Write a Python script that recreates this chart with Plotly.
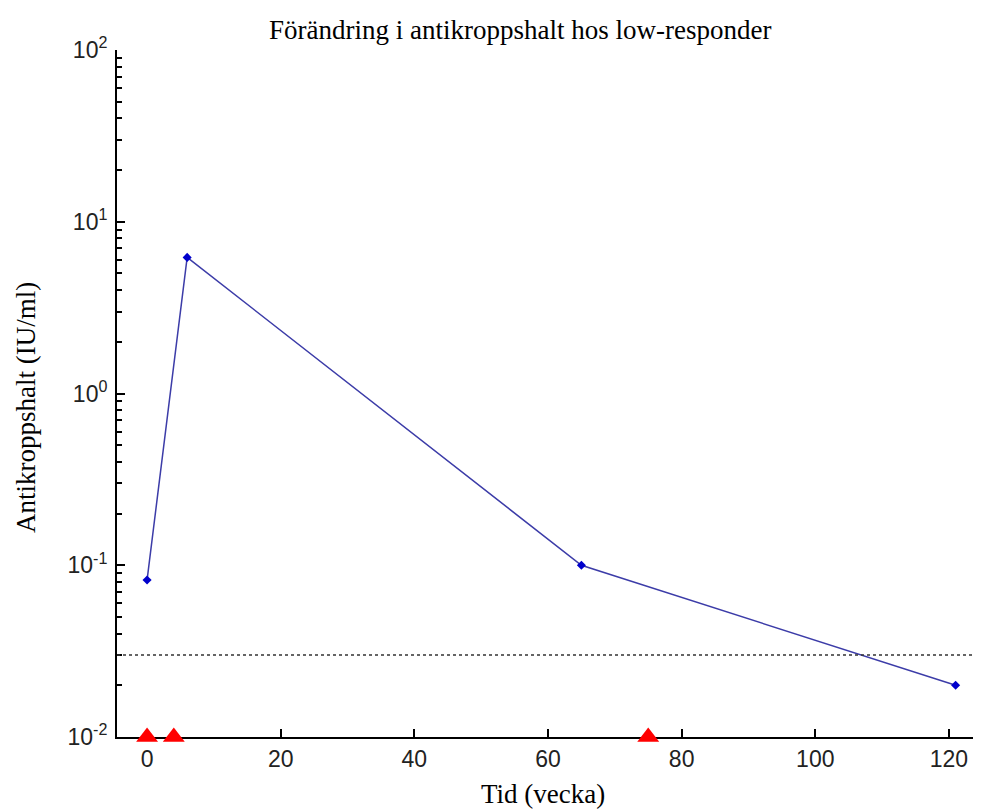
import plotly.graph_objects as go

weeks = [0, 6, 65, 121]
titer = [0.082, 6.2, 0.1, 0.02]
dose_weeks = [0, 4, 75]
dose_level = [0.01, 0.01, 0.01]
threshold = 0.03
x_ticks = [0, 20, 40, 60, 80, 100, 120]
y_ticks = [0.01, 0.1, 1, 10, 100]
y_ticktext = ["10<sup>-2</sup>", "10<sup>-1</sup>", "10<sup>0</sup>", "10<sup>1</sup>", "10<sup>2</sup>"]

# standard logarithmic minor ticks (2..9 within each decade)
minor_vals = [m * d for d in y_ticks[:-1] for m in range(2, 10)]

# page has an 8px body margin; figure sized to fit the 981x812 window
W, H = 973, 804
L, T, B = 109, 42, 75
PW, PH = W - L, H - T - B

fig = go.Figure()
fig.add_trace(go.Scatter(
    x=weeks, y=titer, mode="lines+markers",
    line=dict(color="#3c3ca8", width=1.5),
    marker=dict(symbol="diamond", size=7, color="#0000cc"),
    showlegend=False, cliponaxis=False))
fig.add_trace(go.Scatter(
    x=dose_weeks, y=dose_level, mode="markers",
    marker=dict(symbol="triangle-up", size=19, color="#ff0000"),
    showlegend=False, cliponaxis=False))

fig.add_shape(type="line", xref="paper", yref="y", x0=0, x1=1,
              y0=threshold, y1=threshold,
              line=dict(color="#333333", width=1.5, dash="dot"))

serif = dict(family="Liberation Serif", size=27, color="black")
fig.update_layout(
    width=W, height=H,
    margin=dict(l=L, r=0, t=T, b=B, autoexpand=False),
    plot_bgcolor="white", paper_bgcolor="white",
    font=dict(family="Liberation Sans", size=23, color="#222222"),
    annotations=[
        dict(text="Förändring i antikroppshalt hos low-responder",
             xref="paper", yref="paper", x=(512 - L) / PW, y=1,
             xanchor="center", yanchor="middle", yshift=20, showarrow=False,
             font=serif),
        dict(text="Tid (vecka)", xref="paper", yref="paper",
             x=(535 - L) / PW, y=0, xanchor="center", yanchor="middle", yshift=-57,
             showarrow=False, font=serif),
        dict(text="Antikroppshalt (IU/ml)", xref="paper", yref="paper",
             x=0, y=(H - B - 400) / PH, xanchor="center", yanchor="middle", xshift=-91,
             textangle=-90, showarrow=False, font=serif),
    ],
)
fig.update_xaxes(
    range=[-4.5, 124.8], tickvals=x_ticks, ticks="inside", ticklen=8,
    tickcolor="black", tickwidth=1.5, ticklabelstandoff=0, layer="below traces",
    showline=True, linecolor="black", linewidth=2, showgrid=False,
    zeroline=False, mirror=False)
fig.update_yaxes(
    type="log", range=[-2, 2], tickvals=y_ticks, ticktext=y_ticktext,
    ticks="inside", ticklen=8, tickcolor="black", tickwidth=1.5,
    ticklabelstandoff=3, layer="below traces",
    minor=dict(tickvals=minor_vals, ticks="inside", ticklen=5,
               tickcolor="black", tickwidth=1.5, showgrid=False),
    showline=True, linecolor="black", linewidth=2, showgrid=False,
    zeroline=False, mirror=False)

fig.write_html("out.html")
